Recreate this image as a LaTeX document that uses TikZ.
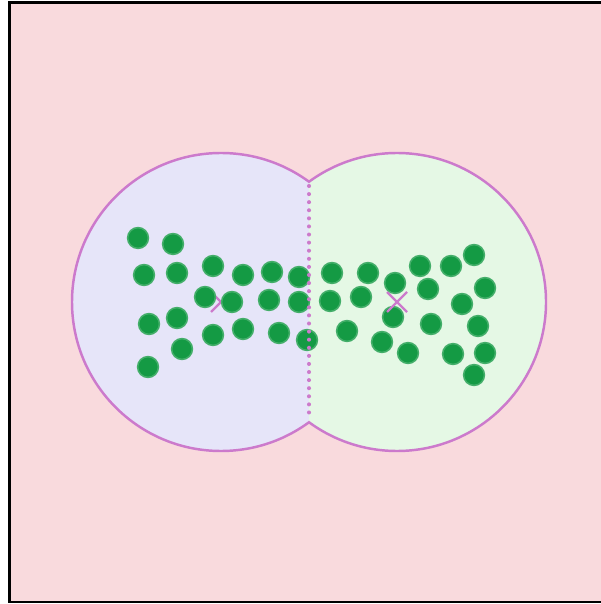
\documentclass[tikz,border=0pt]{standalone}
\usepackage{tikz}
\usetikzlibrary{calc}
\definecolor{bgpink}{HTML}{F9DADD}
\definecolor{leftfill}{HTML}{E6E5F9}
\definecolor{rightfill}{HTML}{E5F8E5}
\definecolor{rim}{HTML}{CC7ACC}
\definecolor{pt}{HTML}{149A44}

\begin{document}
\begin{tikzpicture}[
      x=0.01cm, y=-0.01cm,
      frame/.style={fill=bgpink, draw=black, line width=0.75pt},
      rimline/.style={draw=rim, line width=0.7pt},
      split/.style={rim, line width=1.15pt, line cap=round,
                    dash pattern=on 0pt off 2.3pt},
      centre/.style={rim, line width=0.65pt},
      sample/.style={fill=pt, draw=pt!80, line width=0.45pt}
    ]
    \useasboundingbox (0,0) rectangle (600,604);

    \draw[frame] (9.5,2.5) rectangle (612,602);

    % the two clusters
    \coordinate (cl) at (221,302);
    \coordinate (cr) at (397,302);
    \begin{scope}
      \clip (0,0) rectangle (309,604);
      \fill[leftfill] (cl) circle (149);
      \draw[rimline] (cl) circle (149);
    \end{scope}
    \begin{scope}
      \clip (309,0) rectangle (600,604);
      \fill[rightfill] (cr) circle (149);
      \draw[rimline] (cr) circle (149);
    \end{scope}

    \draw[centre] ($(cl)+(-10,-10)$) -- ($(cl)+(10,10)$)
                  ($(cl)+(-10,10)$) -- ($(cl)+(10,-10)$);

    % left points
    \foreach \px/\py in {138/238, 173/244, 144/275, 177/273, 213/266,
                         243/275, 272/272, 299/277, 205/297, 232/302,
                         269/300, 299/302, 149/324, 177/318, 213/335,
                         243/329, 279/333, 307/340, 182/349, 148/367}
      \path[sample] (\px,\py) circle (10.4);

    % right points
    \foreach \px/\py in {332/273, 368/273, 395/283, 420/266, 451/266,
                         474/255, 330/301, 361/297, 428/289, 485/288,
                         462/304, 393/317, 431/324, 478/326, 347/331,
                         382/342, 408/353, 453/354, 485/353, 474/375}
      \path[sample] (\px,\py) circle (10.4);

    \draw[centre] ($(cr)+(-10,-10)$) -- ($(cr)+(10,10)$)
                  ($(cr)+(-10,10)$) -- ($(cr)+(10,-10)$);

    \draw[split] (309,186) -- (309,418);

  \end{tikzpicture}
\end{document}
